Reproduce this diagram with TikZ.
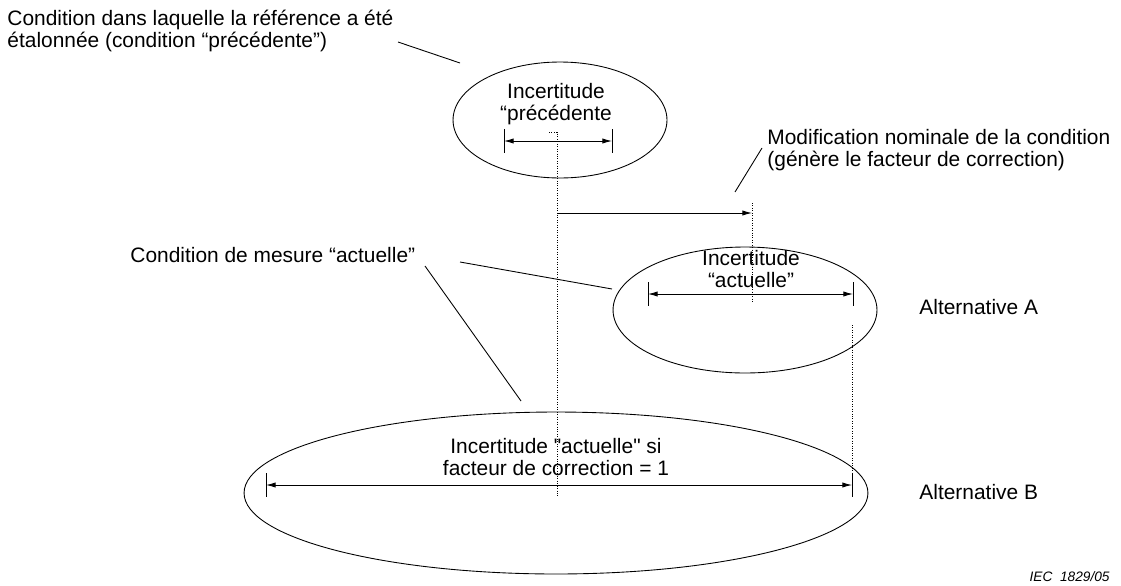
\documentclass[tikz,border=0pt]{standalone}
\usepackage{fontspec}
\setmainfont{Liberation Sans}[Ligatures=TeXOff]
\usetikzlibrary{positioning, arrows.meta, shapes.geometric}

\begin{document}
\begin{tikzpicture}[x=0.02cm, y=-0.02cm, line width=0.5pt,
  every node/.style={align=center, inner sep=0pt, font=\fontsize{11.9}{12.5}\selectfont},
  zone/.style={draw, ellipse, inner sep=0pt},
  dim/.style={{Latex[length=5.5pt,width=3pt]}-{Latex[length=5.5pt,width=3pt]}},
  nomshift/.style={-{Latex[length=5.5pt,width=3pt]}},
  guide/.style={densely dotted, line width=0.4pt}]
  \useasboundingbox (0,0) rectangle (1121,585);

  % conditions
  \node[zone, minimum width=4.28cm, minimum height=2.32cm] (prev) at (560,120) {};
  \node[zone, minimum width=5.28cm, minimum height=2.52cm] (altAzone) at (745,310) {};
  \node[zone, minimum width=12.48cm, minimum height=3.24cm] (altBzone) at (556,493) {};

  % texts
  \node[anchor=west, align=left] (prevtxt) at (7,31) {Condition dans laquelle la référence a été\\étalonnée (condition “précédente”)};
  \node (prevunc) at (556,104) {Incertitude\\“précédente};
  \node[anchor=west, align=left] (modtxt) at (767,150) {Modification nominale de la condition\\(génère le facteur de correction)};
  \node[anchor=west] (curtxt) at (130,255) {Condition de mesure “actuelle”};
  \node (curunc) at (751,269) {Incertitude\\“actuelle”};
  \node (oneunc) at (556,457) {Incertitude "actuelle" si\\facteur de correction = 1};
  \node[anchor=west] (altA) at (919,307) {Alternative A};
  \node[anchor=west] (altB) at (919,492) {Alternative B};
  \node[anchor=east, font=\fontsize{7.8}{9}\selectfont\itshape] (iec) at (1110,577) {IEC\ \ 1829/05};

  % uncertainty spans
  \coordinate (pL) at (504,141); \coordinate (pR) at (612,141);
  \coordinate (aL) at (648,294); \coordinate (aR) at (853,294);
  \coordinate (bL) at (266,485); \coordinate (bR) at (852,485);
  \foreach \c in {pL,pR,aL,aR,bL,bR}
    \draw (\c) ++(0,-12) -- ++(0,24);
  \draw[dim] (pL) -- (pR);
  \draw[dim] (aL) -- (aR);
  \draw[dim] (bL) -- (bR);

  % nominal shift
  \draw[guide] (549,132) -- (557,132) -- (557,497);
  \coordinate (s0) at (558,213); \coordinate (s1) at (752,213);
  \draw[nomshift] (s0) -- (s1);
  \draw[guide] (752,203) -- (752,302);
  \draw[guide] (852,325) -- (852,474);

  % leaders
  \draw (398,42) -- (460,63);
  \draw (735,192) -- (762,148);
  \draw (460,262) -- (612,289);
  \draw (425,266) -- (521,401);
\end{tikzpicture}
\end{document}
